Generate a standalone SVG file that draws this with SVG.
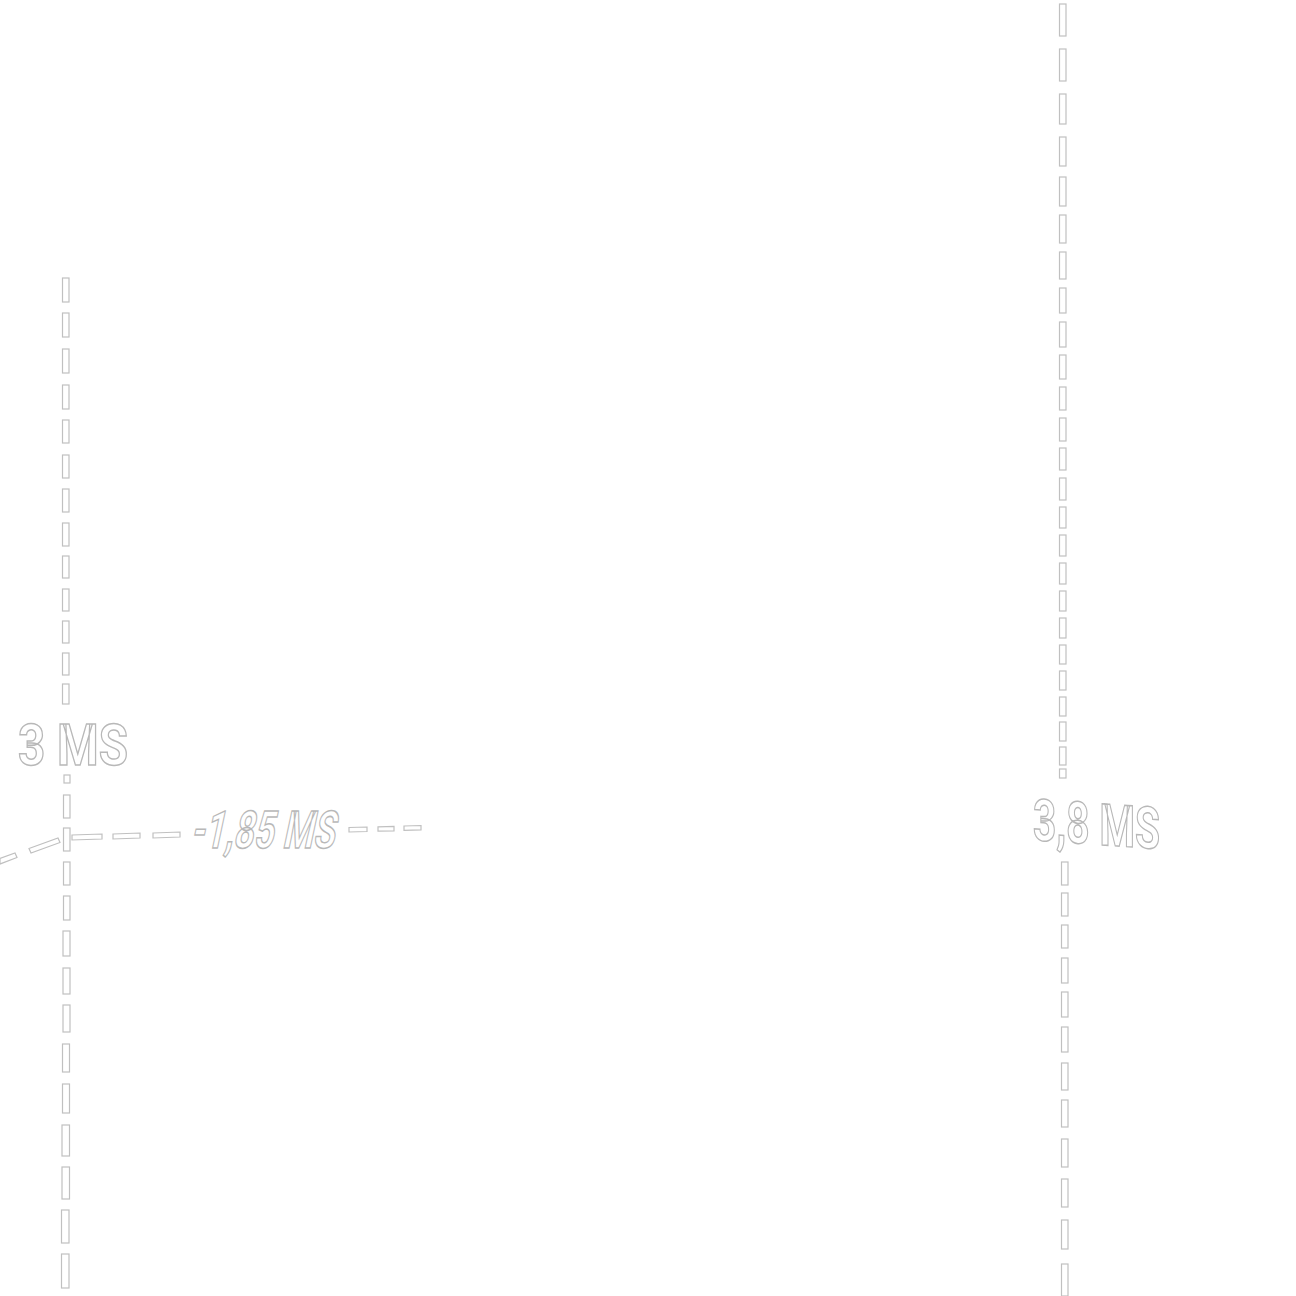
<svg xmlns="http://www.w3.org/2000/svg" width="1296" height="1296" viewBox="0 0 1296 1296">
<style>
.d{fill:#ffffff;stroke:#c0c0c0;stroke-width:1.2}
.t{font-family:Roboto,"Liberation Sans",sans-serif;font-weight:bold;fill:#ffffff;stroke:#b8b8b8;stroke-width:1.5}
</style>
<rect width="1296" height="1296" fill="#ffffff"/>
<g id="connectors">
<g id="line-left-top">
<rect class="d" x="62.5" y="278" width="6.5" height="24"/>
<rect class="d" x="62.5" y="313" width="6.5" height="24"/>
<rect class="d" x="62.5" y="349" width="6.5" height="24"/>
<rect class="d" x="62.5" y="385" width="6.5" height="24"/>
<rect class="d" x="62.5" y="420" width="6.5" height="23"/>
<rect class="d" x="62.5" y="455" width="6.5" height="23"/>
<rect class="d" x="62.5" y="489" width="6.5" height="23"/>
<rect class="d" x="62.5" y="523" width="6.5" height="23"/>
<rect class="d" x="62.5" y="556" width="6.5" height="22"/>
<rect class="d" x="62.5" y="589" width="6.5" height="22"/>
<rect class="d" x="62.5" y="621" width="6.5" height="22"/>
<rect class="d" x="62.5" y="653" width="6.5" height="22"/>
<rect class="d" x="62.5" y="684" width="6.5" height="20"/>
</g>
<g id="line-left-bottom">
<rect class="d" x="64" y="775" width="6" height="8"/>
<rect class="d" x="63.5" y="795" width="6.5" height="23"/>
<rect class="d" x="63.5" y="828" width="6.5" height="23"/>
<rect class="d" x="63.5" y="862" width="6.5" height="23"/>
<rect class="d" x="63.5" y="896" width="6.5" height="24"/>
<rect class="d" x="63" y="931" width="7" height="25"/>
<rect class="d" x="63" y="968" width="7" height="26"/>
<rect class="d" x="63" y="1005" width="7" height="27"/>
<rect class="d" x="62.5" y="1044" width="7" height="28"/>
<rect class="d" x="62.5" y="1084" width="7" height="29"/>
<rect class="d" x="62" y="1125" width="7.5" height="31"/>
<rect class="d" x="62" y="1167" width="7.5" height="32"/>
<rect class="d" x="61.5" y="1210" width="7.5" height="33"/>
<rect class="d" x="61.5" y="1254" width="7.5" height="34"/>
</g>
<g id="line-right-top">
<rect class="d" x="1059.5" y="4" width="6.5" height="32"/>
<rect class="d" x="1059.5" y="49" width="6.5" height="32"/>
<rect class="d" x="1059.5" y="94" width="6.5" height="30"/>
<rect class="d" x="1059.5" y="137" width="6.5" height="29"/>
<rect class="d" x="1059.5" y="177" width="6.5" height="29"/>
<rect class="d" x="1059.5" y="215" width="6.5" height="28"/>
<rect class="d" x="1059.5" y="252" width="6.5" height="27"/>
<rect class="d" x="1059.5" y="288" width="6.5" height="25"/>
<rect class="d" x="1059.5" y="322" width="6.5" height="25"/>
<rect class="d" x="1059.5" y="355" width="6.5" height="24"/>
<rect class="d" x="1059.5" y="387" width="6.5" height="23"/>
<rect class="d" x="1059.5" y="418" width="6.5" height="23"/>
<rect class="d" x="1059.5" y="448" width="6.5" height="22"/>
<rect class="d" x="1059.5" y="478" width="6.5" height="22"/>
<rect class="d" x="1059.5" y="507" width="6.5" height="21"/>
<rect class="d" x="1059.5" y="535" width="6.5" height="21"/>
<rect class="d" x="1059.5" y="563" width="6.5" height="21"/>
<rect class="d" x="1059.5" y="591" width="6.5" height="20"/>
<rect class="d" x="1059.5" y="618" width="6.5" height="20"/>
<rect class="d" x="1059.5" y="645" width="6.5" height="19"/>
<rect class="d" x="1059.5" y="671" width="6.5" height="19"/>
<rect class="d" x="1059.5" y="697" width="6.5" height="19"/>
<rect class="d" x="1059.5" y="722" width="6.5" height="19"/>
<rect class="d" x="1059.5" y="747" width="6.5" height="18"/>
<rect class="d" x="1059.5" y="769" width="6.5" height="9"/>
</g>
<g id="line-right-bottom">
<rect class="d" x="1061.5" y="862" width="6.5" height="23"/>
<rect class="d" x="1061.5" y="893" width="6.5" height="23"/>
<rect class="d" x="1061.5" y="925" width="6.5" height="23"/>
<rect class="d" x="1061.5" y="958" width="6.5" height="25"/>
<rect class="d" x="1061.5" y="992" width="6.5" height="25"/>
<rect class="d" x="1061.5" y="1027" width="6.5" height="25"/>
<rect class="d" x="1061.5" y="1063" width="6.5" height="27"/>
<rect class="d" x="1061.5" y="1100" width="6.5" height="27"/>
<rect class="d" x="1061.5" y="1139" width="6.5" height="28"/>
<rect class="d" x="1061.5" y="1179" width="6.5" height="28"/>
<rect class="d" x="1061.5" y="1220" width="6.5" height="29"/>
<rect class="d" x="1061.5" y="1264" width="6.5" height="32"/>
</g>
<g id="line-horizontal">
<polygon class="d" points="0,858.5 15,853 17,857.5 0,864"/>
<polygon class="d" points="29,848.5 58,838 60,842.5 31,853"/>
<polygon class="d" points="72,835 102,834 102,839 72,840"/>
<polygon class="d" points="113,834 140,833 140,838 113,839"/>
<polygon class="d" points="153,833 180,832 180,837 153,838"/>
<polygon class="d" points="349,827.5 367,827 367,831.5 349,832"/>
<polygon class="d" points="378,826.8 394,826.4 394,830.8 378,831.2"/>
<polygon class="d" points="404,826 421,825.5 421,829.8 404,830.3"/>
</g>
</g>
<g id="label-3ms">
<text class="t" x="18" y="765" font-size="57" textLength="110" lengthAdjust="spacingAndGlyphs">3 MS</text>
</g>
<g id="label-185ms">
<text class="t" transform="translate(190,848) skewX(-12)" x="0" y="0" font-size="52" textLength="144" lengthAdjust="spacingAndGlyphs">-1,85 MS</text>
</g>
<g id="label-38ms">
<text class="t" transform="translate(1033,840) skewY(4)" x="0" y="0" font-size="58" textLength="127" lengthAdjust="spacingAndGlyphs">3,8 MS</text>
</g>
</svg>
